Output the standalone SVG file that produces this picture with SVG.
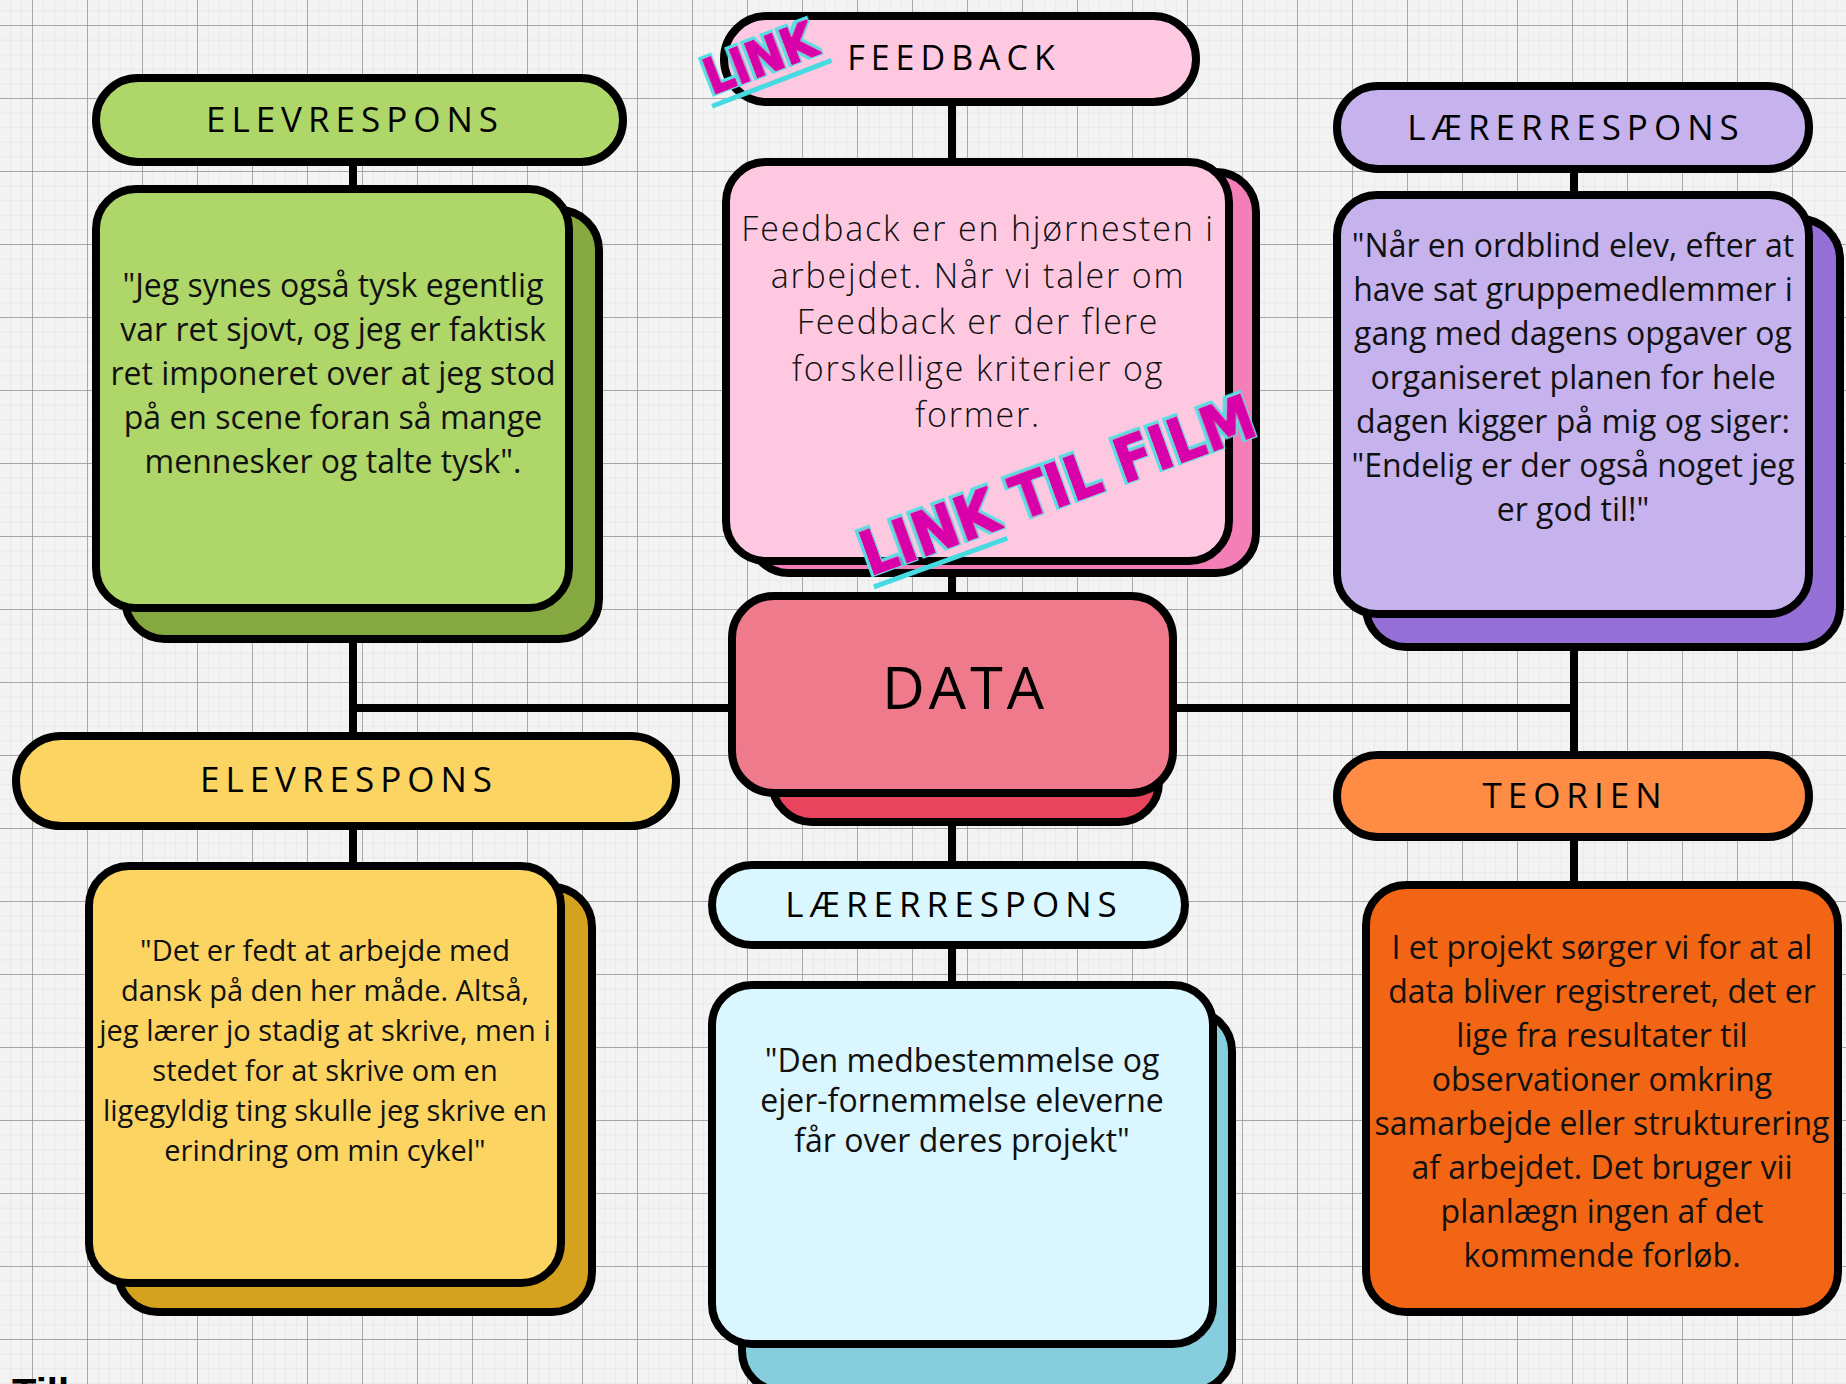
<svg xmlns="http://www.w3.org/2000/svg" width="1846" height="1384" viewBox="0 0 1846 1384">
<defs>
<pattern id="minor" width="11" height="14.6" patternUnits="userSpaceOnUse" x="32" y="25">
<path d="M0 0V14.6M0 0H11" fill="none" stroke="#d9d9d9" stroke-width="0.8"/>
</pattern>
<pattern id="major" width="55" height="73" patternUnits="userSpaceOnUse" x="32" y="25">
<path d="M0 0V73M0 0H55" fill="none" stroke="#8f8f8f" stroke-width="1.4"/>
</pattern>
<filter id="linkfx" x="-10%" y="-30%" width="120%" height="160%">
<feMorphology in="SourceAlpha" operator="dilate" radius="3" result="d"/>
<feFlood flood-color="#4fe0e6"/>
<feComposite in2="d" operator="in" result="outline"/>
<feOffset in="outline" dx="-1" dy="-1" result="outline2"/>
<feMorphology in="SourceGraphic" operator="dilate" radius="1.2" result="thick"/>
<feMerge><feMergeNode in="outline2"/><feMergeNode in="thick"/></feMerge>
</filter>
<style>
.box{stroke:#000;stroke-width:8}
.hdr{font-family:"Open Sans","Liberation Sans",sans-serif;font-size:35px;font-weight:500;letter-spacing:6px;text-anchor:middle;fill:#000}
.txt{font-family:"Open Sans","Liberation Sans",sans-serif;font-size:32px;text-anchor:middle;fill:#111}
.conn{stroke:#000;stroke-width:8;fill:none}
.link{font-family:"DejaVu Sans","Liberation Sans",sans-serif;font-weight:bold;fill:#d800a8;filter:url(#linkfx)}
.ul{fill:#46dbe0}
</style>
</defs>
<rect width="1846" height="1384" fill="#f3f3f3"/>
<rect width="1846" height="1384" fill="url(#minor)"/>
<rect width="1846" height="1384" fill="url(#major)"/>

<g id="connectors">
<line class="conn" x1="353" y1="120" x2="353" y2="900"/>
<line class="conn" x1="353" y1="708" x2="1574" y2="708"/>
<line class="conn" x1="952" y1="59" x2="952" y2="1100"/>
<line class="conn" x1="1574" y1="127" x2="1574" y2="900"/>
</g>

<g id="elevrespons-green-header">
<rect class="box" x="96" y="78" width="527" height="84" rx="42" fill="#afd668"/>
<text class="hdr" x="355" y="132">ELEVRESPONS</text>
</g>
<g id="elevrespons-green-body">
<rect class="box" x="125" y="210" width="474" height="429" rx="40" fill="#86a840"/>
<rect class="box" x="96" y="189" width="473" height="419" rx="40" fill="#afd668"/>
<text class="txt"><tspan x="333" y="297">"Jeg synes også tysk egentlig</tspan><tspan x="333" y="341">var ret sjovt, og jeg er faktisk</tspan><tspan x="333" y="385">ret imponeret over at jeg stod</tspan><tspan x="333" y="429">på en scene foran så mange</tspan><tspan x="333" y="473">mennesker og talte tysk".</tspan></text>
</g>

<g id="elevrespons-yellow-header">
<rect class="box" x="16" y="736" width="660" height="90" rx="45" fill="#fcd462"/>
<text class="hdr" x="349" y="792">ELEVRESPONS</text>
</g>
<g id="elevrespons-yellow-body">
<rect class="box" x="118" y="887" width="474" height="425" rx="40" fill="#d5a21f"/>
<rect class="box" x="89" y="866" width="472" height="417" rx="40" fill="#fcd462"/>
<text class="txt" style="font-size:29px"><tspan x="325" y="961">"Det er fedt at arbejde med</tspan><tspan x="325" y="1001">dansk på den her måde. Altså,</tspan><tspan x="325" y="1041">jeg lærer jo stadig at skrive, men i</tspan><tspan x="325" y="1081">stedet for at skrive om en</tspan><tspan x="325" y="1121">ligegyldig ting skulle jeg skrive en</tspan><tspan x="325" y="1161">erindring om min cykel"</tspan></text>
</g>

<g id="feedback-header">
<rect class="box" x="724" y="16" width="472" height="86" rx="43" fill="#ffc8e1"/>
<text class="hdr" x="954" y="70" style="font-size:34px">FEEDBACK</text>
</g>
<g id="feedback-body">
<rect class="box" x="749" y="172" width="507" height="401" rx="40" fill="#f47fb6"/>
<rect class="box" x="726" y="162" width="503" height="399" rx="40" fill="#ffc8e1"/>
<text class="txt" style="font-size:34px;font-weight:300;letter-spacing:1.8px"><tspan x="978" y="241">Feedback er en hjørnesten i</tspan><tspan x="978" y="287.5">arbejdet. Når vi taler om</tspan><tspan x="978" y="334">Feedback er der flere</tspan><tspan x="978" y="380.5">forskellige kriterier og</tspan><tspan x="978" y="427">former.</tspan></text>
</g>

<g id="laererrespons-purple-header">
<rect class="box" x="1337" y="86" width="472" height="83" rx="41" fill="#c6b2ed"/>
<text class="hdr" x="1576" y="140">LÆRERRESPONS</text>
</g>
<g id="laererrespons-purple-body">
<rect class="box" x="1366" y="219" width="474" height="428" rx="40" fill="#936fd6"/>
<rect class="box" x="1337" y="195" width="472" height="419" rx="40" fill="#c6b2ed"/>
<text class="txt"><tspan x="1573" y="257">"Når en ordblind elev, efter at</tspan><tspan x="1573" y="301">have sat gruppemedlemmer i</tspan><tspan x="1573" y="345">gang med dagens opgaver og</tspan><tspan x="1573" y="389">organiseret planen for hele</tspan><tspan x="1573" y="433">dagen kigger på mig og siger:</tspan><tspan x="1573" y="477">"Endelig er der også noget jeg</tspan><tspan x="1573" y="521">er god til!"</tspan></text>
</g>

<g id="data">
<rect class="box" x="772" y="624" width="387" height="198" rx="40" fill="#e8445e"/>
<rect class="box" x="732" y="596" width="441" height="197" rx="42" fill="#ef7a8c"/>
<text class="hdr" x="965" y="709" style="font-size:59px;letter-spacing:4px">DATA</text>
</g>

<g id="laererrespons-blue-header">
<rect class="box" x="712" y="865" width="473" height="80" rx="40" fill="#daf6ff"/>
<text class="hdr" x="954" y="917">LÆRERRESPONS</text>
</g>
<g id="laererrespons-blue-body">
<rect class="box" x="742" y="1011" width="490" height="380" rx="40" fill="#86cddd"/>
<rect class="box" x="712" y="985" width="501" height="359" rx="40" fill="#daf6ff"/>
<text class="txt" style="font-size:32px"><tspan x="962" y="1072">"Den medbestemmelse og</tspan><tspan x="962" y="1112">ejer-fornemmelse eleverne</tspan><tspan x="962" y="1152">får over deres projekt"</tspan></text>
</g>

<g id="teorien-header">
<rect class="box" x="1337" y="755" width="472" height="82" rx="41" fill="#ff8c44"/>
<text class="hdr" x="1575" y="808">TEORIEN</text>
</g>
<g id="teorien-body">
<rect class="box" x="1366" y="885" width="472" height="427" rx="40" fill="#f26514"/>
<text class="txt"><tspan x="1602" y="959">I et projekt sørger vi for at al</tspan><tspan x="1602" y="1003">data bliver registreret, det er</tspan><tspan x="1602" y="1047">lige fra resultater til</tspan><tspan x="1602" y="1091">observationer omkring</tspan><tspan x="1602" y="1135">samarbejde eller strukturering</tspan><tspan x="1602" y="1179">af arbejdet. Det bruger vii</tspan><tspan x="1602" y="1223">planlægn ingen af det</tspan><tspan x="1602" y="1267">kommende forløb.</tspan></text>
</g>

<g id="link-small" transform="translate(712,95) rotate(-21)">
<rect class="ul" x="-4" y="8" width="128" height="5"/>
<text class="link" x="0" y="0" style="font-size:50px" textLength="116" lengthAdjust="spacingAndGlyphs">LINK</text>
</g>
<g id="link-film" transform="translate(870,576) rotate(-20)">
<rect class="ul" x="0" y="9" width="142" height="5"/>
<text class="link" x="0" y="0" style="font-size:60px" textLength="415" lengthAdjust="spacingAndGlyphs">LINK TIL FILM</text>
</g>

<text x="12" y="1407" style="font-family:'Liberation Sans',sans-serif;font-weight:bold;font-size:40px;fill:#000">Till</text>
</svg>
